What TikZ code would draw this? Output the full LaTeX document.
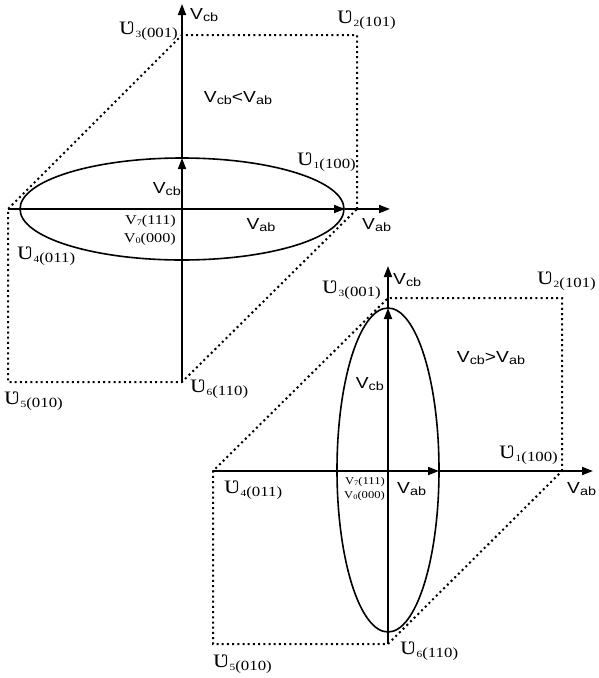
\documentclass[tikz,border=0pt]{standalone}
\usepackage{fontspec}
\usepackage{graphicx}
\setmainfont{Liberation Serif}
\newfontfamily\arialf{Liberation Sans}
\usetikzlibrary{arrows.meta}
\newcommand\hs[1]{\scalebox{1.2}[1]{#1}}
\newcommand\ulab[2]{\hs{{\fontsize{19}{19}\selectfont Ʋ}\raisebox{-3pt}{{\fontsize{9.5}{10}\selectfont #1}{\fontsize{14}{15}\selectfont(#2)}}}}
\newcommand\vlabx[1]{{\arialf\fontsize{16}{16}\selectfont V\raisebox{-1.5pt}{\fontsize{12}{12}\selectfont #1}}}
\newcommand\vlab[1]{\hs{\vlabx{#1}}}
\newcommand\zlab[3]{\hs{{\fontsize{#3}{#3}\selectfont V\raisebox{-1.5pt}{\fontsize{8.5}{9}\selectfont #1}(#2)}}}
\newcommand\zlabs[3]{\hs{{\fontsize{#3}{#3}\selectfont V\raisebox{-1.2pt}{\fontsize{7}{7}\selectfont #1}(#2)}}}
\tikzset{
  axisline/.style={line width=1.8pt,-{Triangle[length=11pt,width=8pt]}},
  hexline/.style={line width=2pt,dash pattern=on 2pt off 3.2pt},
  ellline/.style={line width=1.6pt},
  lab/.style={inner sep=0pt}
}
\begin{document}
\begin{tikzpicture}[x=1pt,y=-1pt]
\useasboundingbox (0,0) rectangle (598,678);
% ---------- diagram 1 ----------
\coordinate (o1) at (182,209);
\coordinate (a1) at (357,209);
\coordinate (a2) at (357,35);
\coordinate (a3) at (182,35);
\coordinate (a4) at (8,209);
\coordinate (a5) at (8,382);
\coordinate (a6) at (182,382);
\coordinate (axe) at (345,209);
\coordinate (aye) at (182,158);
\coordinate (axt) at (390,209);
\coordinate (ayt) at (182,4);
\draw[hexline] (a1) -- (a2) -- (a3) -- (a4) -- (a5) -- (a6) -- cycle;
\draw[ellline] (o1) ellipse [x radius=162pt, y radius=51pt];
\draw[axisline] (a4) -- (axe);
\draw[axisline] (axe) -- (axt);
\draw[axisline] (a6) -- (aye);
\draw[axisline] (aye) -- (ayt);
\node[lab,anchor=west] (l1vcb) at (190,15) {\vlab{cb}};
\node[lab,anchor=east] (l1u3) at (178,31) {\ulab{3}{001}};
\node[lab,anchor=west] (l1u2) at (337,20) {\ulab{2}{101}};
\node[lab] (l1cmp) at (238,98) {\hs{\vlabx{cb}{\arialf\fontsize{16}{16}\selectfont<}\vlabx{ab}}};
\node[lab,anchor=east] (l1u1) at (356,162) {\ulab{1}{100}};
\node[lab,anchor=east] (l1vcbi) at (181,189) {\vlab{cb}};
\node[lab,anchor=east] (l1z7) at (176,221) {\zlab{7}{111}{13.5}};
\node[lab,anchor=east] (l1z0) at (176,239) {\zlab{0}{000}{13.5}};
\node[lab] (l1vabi) at (261,225) {\vlab{ab}};
\node[lab,anchor=west] (l1vab) at (362,225) {\vlab{ab}};
\node[lab,anchor=west] (l1u4) at (17,256) {\ulab{4}{011}};
\node[lab,anchor=west] (l1u5) at (4,401) {\ulab{5}{010}};
\node[lab,anchor=west] (l1u6) at (190,389) {\ulab{6}{110}};
% ---------- diagram 2 ----------
\coordinate (o2) at (388,470);
\coordinate (b1) at (562,471);
\coordinate (b2) at (562,298);
\coordinate (b3) at (388,298);
\coordinate (b4) at (213,471);
\coordinate (b5) at (213,644);
\coordinate (b6) at (388,644);
\coordinate (bxe) at (439,471);
\coordinate (bye) at (388,308);
\coordinate (bxt) at (593,471);
\coordinate (byt) at (388,266);
\draw[hexline] (b1) -- (b2) -- (b3) -- (b4) -- (b5) -- (b6) -- cycle;
\draw[ellline] (o2) ellipse [x radius=51pt, y radius=162pt];
\draw[axisline] (b4) -- (bxe);
\draw[axisline] (bxe) -- (bxt);
\draw[axisline] (b6) -- (bye);
\draw[axisline] (bye) -- (byt);
\node[lab,anchor=west] (l2vcb) at (393,280) {\vlab{cb}};
\node[lab,anchor=east] (l2u3) at (381,290) {\ulab{3}{001}};
\node[lab,anchor=east] (l2u2) at (596,281) {\ulab{2}{101}};
\node[lab] (l2cmp) at (491,358) {\hs{\vlabx{cb}{\arialf\fontsize{16}{16}\selectfont>}\vlabx{ab}}};
\node[lab,anchor=east] (l2vcbi) at (384,384) {\vlab{cb}};
\node[lab,anchor=east] (l2u1) at (558,455) {\ulab{1}{100}};
\node[lab,anchor=east] (l2z7) at (385,482) {\zlabs{7}{111}{10.5}};
\node[lab,anchor=east] (l2z0) at (385,496) {\zlabs{0}{000}{10.5}};
\node[lab,anchor=west] (l2vabi) at (397,489) {\vlab{ab}};
\node[lab,anchor=west] (l2vab) at (567,489) {\vlab{ab}};
\node[lab,anchor=west] (l2u4) at (224,490) {\ulab{4}{011}};
\node[lab,anchor=west] (l2u5) at (213,664) {\ulab{5}{010}};
\node[lab,anchor=west] (l2u6) at (400,651) {\ulab{6}{110}};
\end{tikzpicture}
\end{document}
